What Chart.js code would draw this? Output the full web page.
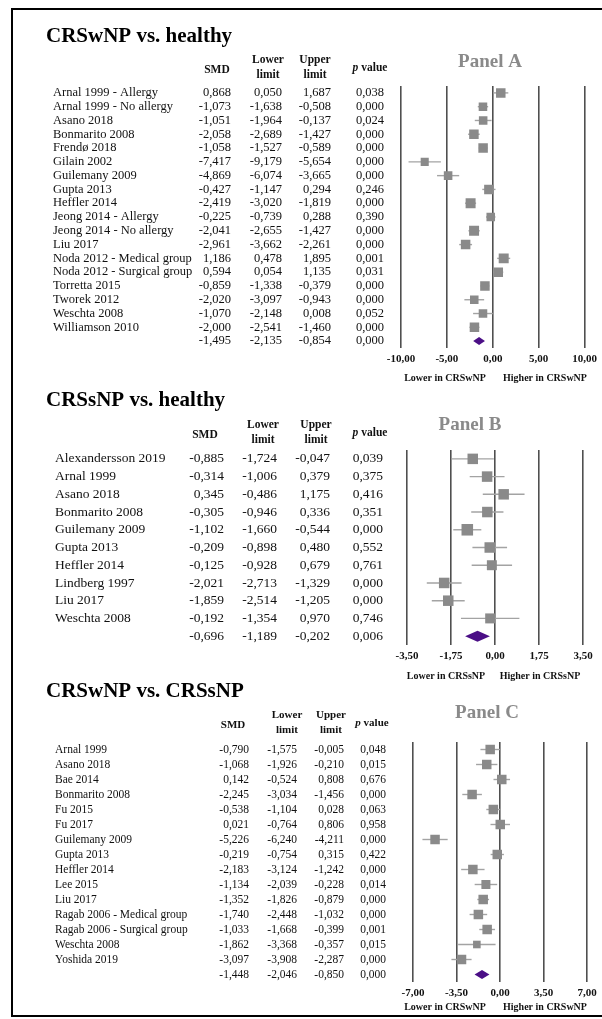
<!DOCTYPE html>
<html>
<head>
<meta charset="utf-8">
<script src="https://cdn.jsdelivr.net/npm/chart.js@4.4.0/dist/chart.umd.min.js"></script>
<style>
  body { margin: 0; background: #fff; }
  #page { position: relative; width: 602px; height: 1019px; overflow: hidden; background: #fff; }
  #frame { position: absolute; left: 11px; top: 8px; width: 600px; height: 1009px; border: 2px solid #000; box-sizing: border-box; }
  canvas { position: absolute; left: 0; }
</style>
</head>
<body>
<div id="page">
  <div id="frame"></div>
  <canvas id="panelA" width="602" height="390" style="top:0px"></canvas>
  <canvas id="panelB" width="602" height="300" style="top:385px"></canvas>
  <canvas id="panelC" width="602" height="349" style="top:670px"></canvas>
</div>
<script>
// ---------- Panel A: CRSwNP vs. healthy ----------
const studiesA = ['Arnal 1999 - Allergy', 'Arnal 1999 - No allergy', 'Asano 2018', 'Bonmarito 2008', 'Frendø 2018',
  'Gilain 2002', 'Guilemany 2009', 'Gupta 2013', 'Heffler 2014', 'Jeong 2014 - Allergy', 'Jeong 2014 - No allergy',
  'Liu 2017', 'Noda 2012 - Medical group', 'Noda 2012 - Surgical group', 'Torretta 2015', 'Tworek 2012',
  'Weschta 2008', 'Williamson 2010'];
const smdA   = [0.868, -1.073, -1.051, -2.058, -1.058, -7.417, -4.869, -0.427, -2.419, -0.225, -2.041, -2.961, 1.186, 0.594, -0.859, -2.020, -1.070, -2.000];
const lowerA = [0.050, -1.638, -1.964, -2.689, -1.527, -9.179, -6.074, -1.147, -3.020, -0.739, -2.655, -3.662, 0.478, 0.054, -1.338, -3.097, -2.148, -2.541];
const upperA = [1.687, -0.508, -0.137, -1.427, -0.589, -5.654, -3.665, 0.294, -1.819, 0.288, -1.427, -2.261, 1.895, 1.135, -0.379, -0.943, 0.008, -1.460];
const pValueA = [0.038, 0.000, 0.024, 0.000, 0.000, 0.000, 0.000, 0.246, 0.000, 0.390, 0.000, 0.000, 0.001, 0.031, 0.000, 0.000, 0.052, 0.000];
const weightA = [1.0, 0.9, 0.9, 1.0, 1.0, 0.85, 0.9, 1.0, 1.05, 0.9, 1.05, 1.0, 1.05, 1.0, 1.0, 0.9, 0.9, 1.0];
const pooledA = [-1.495, -2.135, -0.854, 0.000]; // SMD, lower, upper, p
const ticksA = [-10, -5, 0, 5, 10];

// ---------- Panel B: CRSsNP vs. healthy ----------
const studiesB = ['Alexandersson 2019', 'Arnal 1999', 'Asano 2018', 'Bonmarito 2008', 'Guilemany 2009', 'Gupta 2013',
  'Heffler 2014', 'Lindberg 1997', 'Liu 2017', 'Weschta 2008'];
const smdB   = [-0.885, -0.314, 0.345, -0.305, -1.102, -0.209, -0.125, -2.021, -1.859, -0.192];
const lowerB = [-1.724, -1.006, -0.486, -0.946, -1.660, -0.898, -0.928, -2.713, -2.514, -1.354];
const upperB = [-0.047, 0.379, 1.175, 0.336, -0.544, 0.480, 0.679, -1.329, -1.205, 0.970];
const pValueB = [0.039, 0.375, 0.416, 0.351, 0.000, 0.552, 0.761, 0.000, 0.000, 0.746];
const weightB = [1.0, 1.0, 1.0, 1.0, 1.1, 1.0, 0.95, 1.0, 1.0, 0.95];
const pooledB = [-0.696, -1.189, -0.202, 0.006];
const ticksB = [-3.5, -1.75, 0, 1.75, 3.5];

// ---------- Panel C: CRSwNP vs. CRSsNP ----------
const studiesC = ['Arnal 1999', 'Asano 2018', 'Bae 2014', 'Bonmarito 2008', 'Fu 2015', 'Fu 2017', 'Guilemany 2009',
  'Gupta 2013', 'Heffler 2014', 'Lee 2015', 'Liu 2017', 'Ragab 2006 - Medical group', 'Ragab 2006 - Surgical group',
  'Weschta 2008', 'Yoshida 2019'];
const smdC   = [-0.790, -1.068, 0.142, -2.245, -0.538, 0.021, -5.226, -0.219, -2.183, -1.134, -1.352, -1.740, -1.033, -1.862, -3.097];
const lowerC = [-1.575, -1.926, -0.524, -3.034, -1.104, -0.764, -6.240, -0.754, -3.124, -2.039, -1.826, -2.448, -1.668, -3.368, -3.908];
const upperC = [-0.005, -0.210, 0.808, -1.456, 0.028, 0.806, -4.211, 0.315, -1.242, -0.228, -0.879, -1.032, -0.399, -0.357, -2.287];
const pValueC = [0.048, 0.015, 0.676, 0.000, 0.063, 0.958, 0.000, 0.422, 0.000, 0.014, 0.000, 0.000, 0.001, 0.015, 0.000];
const weightC = [1.0, 1.0, 1.0, 1.0, 1.0, 1.0, 1.0, 1.0, 1.0, 0.95, 1.0, 1.0, 1.0, 0.8, 1.0];
const pooledC = [-1.448, -2.046, -0.850, 0.000];
const ticksC = [-7, -3.5, 0, 3.5, 7];

const W = 602;
const AXIS_H = 30;
const SERIF = '"Liberation Serif", "DejaVu Serif", serif';
const fmt = (v, d) => v.toFixed(d).replace('.', ',');

const panels = [
  { id: 'panelA', names: studiesA, smd: smdA, lower: lowerA, upper: upperA, p: pValueA, weight: weightA, pooled: pooledA, ticks: ticksA,
    title: 'CRSwNP vs. healthy', label: 'Panel A', captions: ['Lower in CRSwNP', 'Higher in CRSwNP'],
    look: { area: { left: 401, right: 587, top: 86, bottom: 348 }, titleY: 37, headY: 68, labelX: 490, labelY: 62,
      capY: 378, capX: [445, 545], nameX: 53, cols: [231, 282, 331, 384], heads: [217, 268, 315, 370],
      font: 12.5, headFont: 11.5, box: 9.5, diamondH: 8 } },
  { id: 'panelB', names: studiesB, smd: smdB, lower: lowerB, upper: upperB, p: pValueB, weight: weightB, pooled: pooledB, ticks: ticksB,
    title: 'CRSsNP vs. healthy', label: 'Panel B', captions: ['Lower in CRSsNP', 'Higher in CRSsNP'],
    look: { area: { left: 407, right: 583, top: 65, bottom: 260 }, titleY: 16, headY: 48, labelX: 470, labelY: 40,
      capY: 291, capX: [446, 540], nameX: 55, cols: [224, 277, 330, 383], heads: [205, 263, 316, 370],
      font: 13.5, headFont: 11.5, box: 10.5, diamondH: 11 } },
  { id: 'panelC', names: studiesC, smd: smdC, lower: lowerC, upper: upperC, p: pValueC, weight: weightC, pooled: pooledC, ticks: ticksC,
    title: 'CRSwNP vs. CRSsNP', label: 'Panel C', captions: ['Lower in CRSwNP', 'Higher in CRSwNP'],
    look: { area: { left: 413, right: 587, top: 72, bottom: 312 }, titleY: 22, headY: 53, labelX: 487, labelY: 43,
      capY: 337, capX: [445, 545], nameX: 55, cols: [249, 297, 344, 386], heads: [233, 287, 331, 372],
      font: 11.5, headFont: 11, box: 9.5, diamondH: 9 } },
];

function forestPlugin(p) {
  const L = p.look;
  const n = p.names.length;
  return {
    id: 'forest-' + p.id,
    beforeDatasetsDraw(chart) {
      const { ctx, scales: { x, y } } = chart;
      ctx.save();
      ctx.strokeStyle = '#a3a3a3';
      ctx.lineWidth = 1.4;
      p.lower.forEach((lo, i) => {
        const yy = y.getPixelForValue(i);
        ctx.beginPath();
        ctx.moveTo(x.getPixelForValue(lo), yy);
        ctx.lineTo(x.getPixelForValue(p.upper[i]), yy);
        ctx.stroke();
      });
      ctx.restore();
    },
    afterDatasetsDraw(chart) {
      const { ctx, scales: { x, y } } = chart;
      const yy = y.getPixelForValue(n);
      const h = L.diamondH / 2;
      ctx.save();
      ctx.fillStyle = '#4b0f86';
      ctx.beginPath();
      ctx.moveTo(x.getPixelForValue(p.pooled[1]), yy);
      ctx.lineTo(x.getPixelForValue(p.pooled[0]), yy - h);
      ctx.lineTo(x.getPixelForValue(p.pooled[2]), yy);
      ctx.lineTo(x.getPixelForValue(p.pooled[0]), yy + h);
      ctx.closePath();
      ctx.fill();
      ctx.restore();
    },
    afterDraw(chart) {
      const { ctx, scales: { y } } = chart;
      ctx.save();
      ctx.textBaseline = 'middle';
      ctx.fillStyle = '#000';

      // title
      ctx.font = `bold 21px ${SERIF}`;
      ctx.textAlign = 'left';
      ctx.fillText(p.title, 46, L.titleY);

      // panel label
      ctx.font = `bold 19px ${SERIF}`;
      ctx.fillStyle = '#8a8a8a';
      ctx.textAlign = 'center';
      ctx.fillText(p.label, L.labelX, L.labelY);

      // column headers
      ctx.fillStyle = '#111';
      ctx.font = `bold ${L.headFont}px ${SERIF}`;
      ctx.fillText('SMD', L.heads[0], L.headY + 2);
      ctx.fillText('Lower', L.heads[1], L.headY - 8);
      ctx.fillText('limit', L.heads[1], L.headY + 7);
      ctx.fillText('Upper', L.heads[2], L.headY - 8);
      ctx.fillText('limit', L.heads[2], L.headY + 7);
      ctx.textAlign = 'left';
      const vw = ctx.measureText(' value').width;
      ctx.font = `italic bold ${L.headFont}px ${SERIF}`;
      const pw = ctx.measureText('p').width;
      const px0 = L.heads[3] - (vw + pw) / 2;
      ctx.fillText('p', px0, L.headY);
      ctx.font = `bold ${L.headFont}px ${SERIF}`;
      ctx.fillText(' value', px0 + pw, L.headY);

      // table rows
      ctx.font = `${L.font}px ${SERIF}`;
      const rows = p.names.map((name, i) => [name, p.smd[i], p.lower[i], p.upper[i], p.p[i]]);
      rows.push(['', p.pooled[0], p.pooled[1], p.pooled[2], p.pooled[3]]);
      rows.forEach((r, i) => {
        const yy = y.getPixelForValue(i);
        ctx.textAlign = 'left';
        ctx.fillText(r[0], L.nameX, yy);
        ctx.textAlign = 'right';
        for (let c = 0; c < 4; c++) ctx.fillText(fmt(r[c + 1], 3), L.cols[c], yy);
      });

      // axis captions
      ctx.font = `bold 10px ${SERIF}`;
      ctx.textAlign = 'center';
      ctx.fillText(p.captions[0], L.capX[0], L.capY);
      ctx.fillText(p.captions[1], L.capX[1], L.capY);
      ctx.restore();
    }
  };
}

function makePanel(p) {
  const canvas = document.getElementById(p.id);
  const L = p.look;
  const H = canvas.height;
  const n = p.names.length;
  return new Chart(canvas, {
    type: 'scatter',
    data: {
      datasets: [{
        data: p.smd.map((v, i) => ({ x: v, y: i })),
        pointStyle: 'rect',
        pointRadius: c => (L.box * p.weight[c.dataIndex]) / Math.SQRT2,
        backgroundColor: '#8a8a8a',
        borderWidth: 0,
      }]
    },
    options: {
      responsive: false,
      animation: false,
      events: [],
      layout: { padding: { left: L.area.left, right: W - L.area.right, top: L.area.top, bottom: H - L.area.bottom - AXIS_H } },
      plugins: { legend: { display: false }, tooltip: { enabled: false } },
      scales: {
        x: {
          type: 'linear',
          min: p.ticks[0],
          max: p.ticks[p.ticks.length - 1],
          afterBuildTicks: s => { s.ticks = p.ticks.map(v => ({ value: v })); },
          afterFit: s => { s.height = AXIS_H; },
          grid: { color: '#4f4f4f', lineWidth: 1.6, drawTicks: false },
          border: { display: false },
          ticks: { padding: 5, color: '#111', font: { family: SERIF, size: 11, weight: 'bold' }, callback: v => fmt(v, 2) }
        },
        y: { type: 'linear', min: -0.5, max: n + 0.5, reverse: true, display: false }
      }
    },
    plugins: [forestPlugin(p)]
  });
}

panels.forEach(makePanel);
</script>
</body>
</html>
